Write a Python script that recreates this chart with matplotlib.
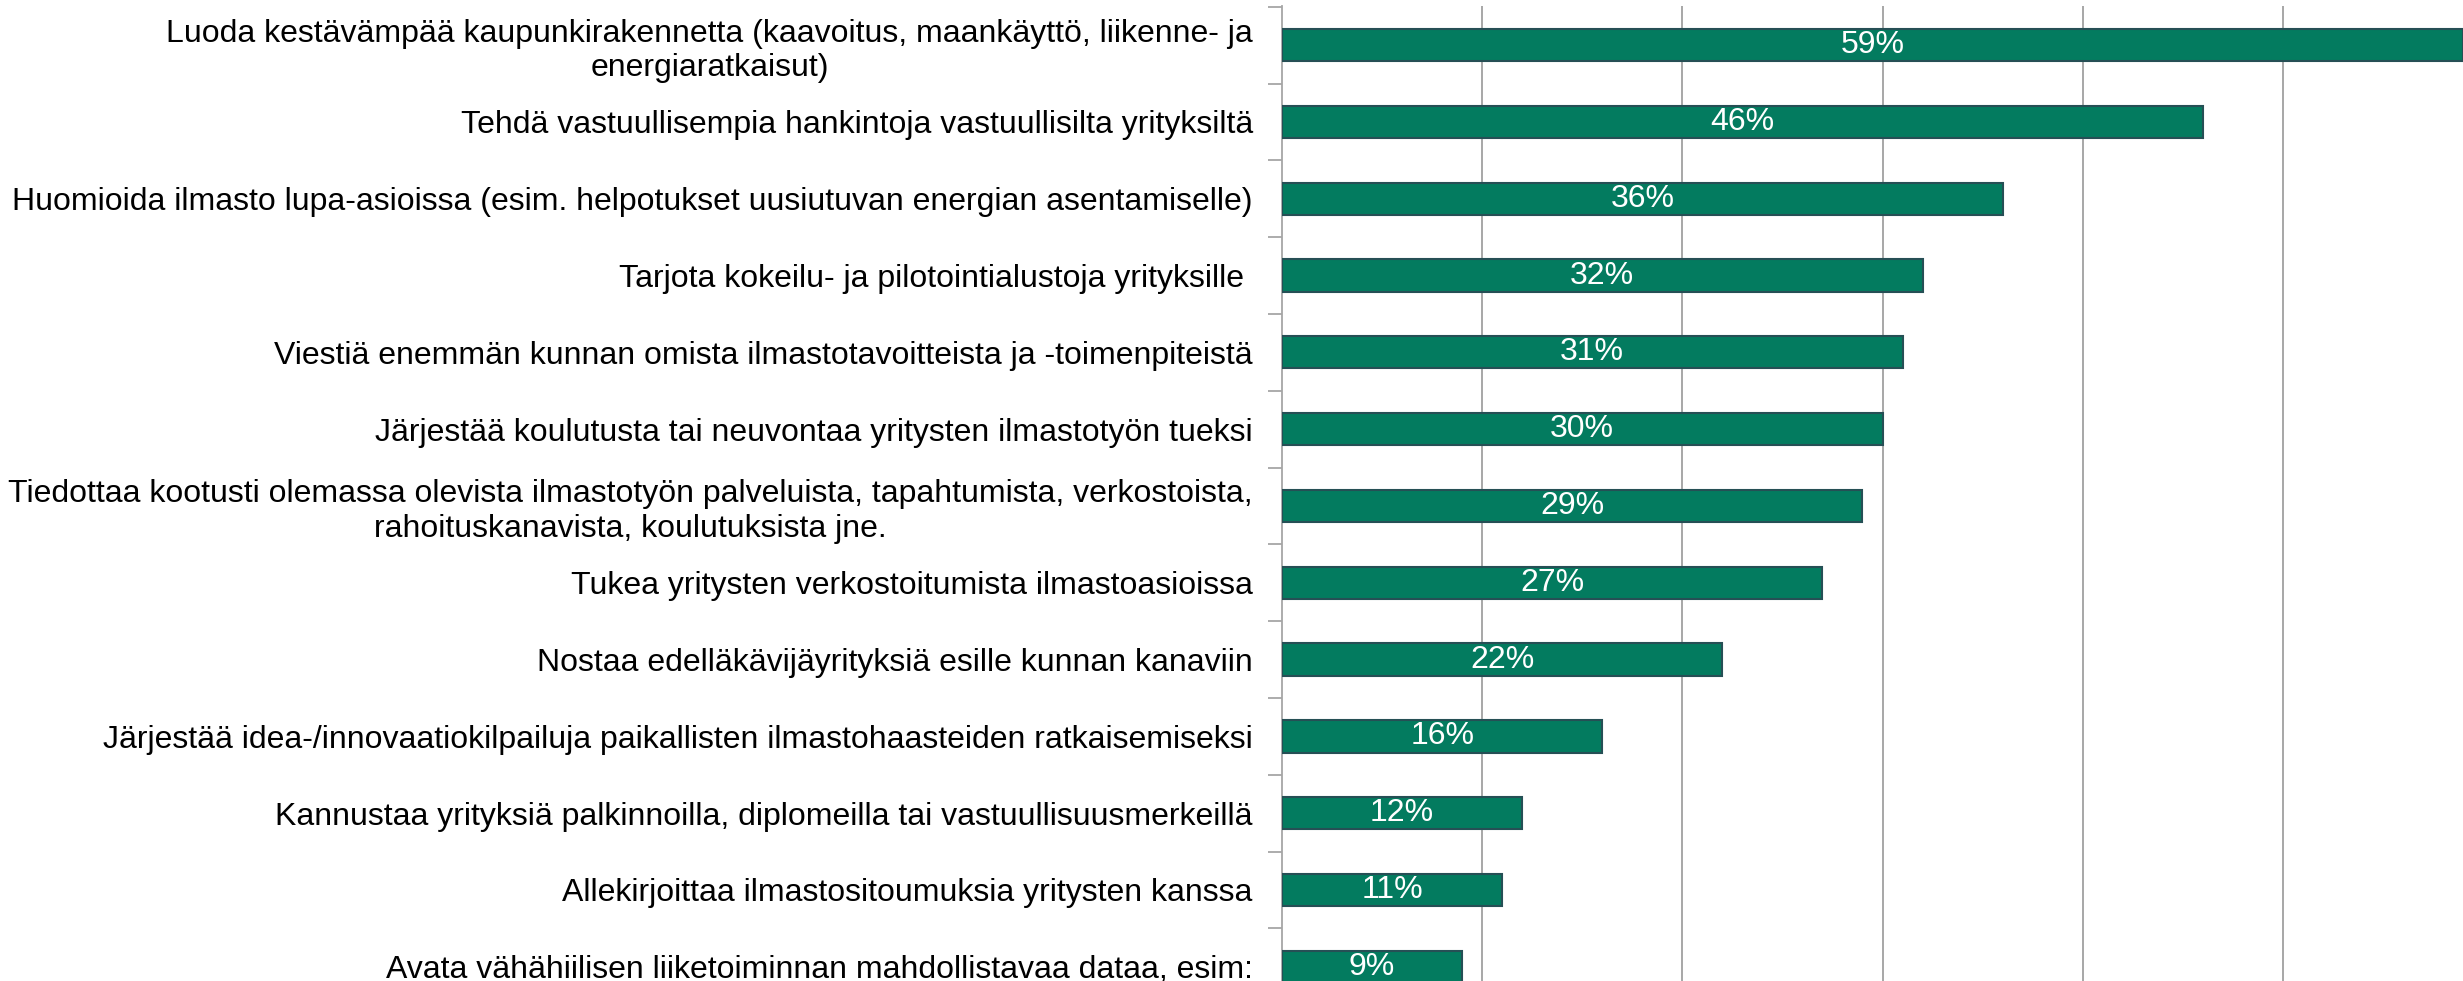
import numpy as np
import matplotlib as mpl

mpl.use('agg')

import matplotlib.pyplot as plt

## data (top to bottom)
labels = [
    'Luoda kestävämpää kaupunkirakennetta (kaavoitus, maankäyttö, liikenne- ja\nenergiaratkaisut)',
    'Tehdä vastuullisempia hankintoja vastuullisilta yrityksiltä',
    'Huomioida ilmasto lupa-asioissa (esim. helpotukset uusiutuvan energian asentamiselle)',
    'Tarjota kokeilu- ja pilotointialustoja yrityksille ',
    'Viestiä enemmän kunnan omista ilmastotavoitteista ja -toimenpiteistä',
    'Järjestää koulutusta tai neuvontaa yritysten ilmastotyön tueksi',
    'Tiedottaa kootusti olemassa olevista ilmastotyön palveluista, tapahtumista, verkostoista,\nrahoituskanavista, koulutuksista jne.',
    'Tukea yritysten verkostoitumista ilmastoasioissa',
    'Nostaa edelläkävijäyrityksiä esille kunnan kanaviin',
    'Järjestää idea-/innovaatiokilpailuja paikallisten ilmastohaasteiden ratkaisemiseksi',
    'Kannustaa yrityksiä palkinnoilla, diplomeilla tai vastuullisuusmerkeillä',
    'Allekirjoittaa ilmastositoumuksia yritysten kanssa',
    'Avata vähähiilisen liiketoiminnan mahdollistavaa dataa, esim:',
]
values = [59, 46, 36, 32, 31, 30, 29, 27, 22, 16, 12, 11, 9]

plt.rcParams['font.family'] = ['Liberation Sans', 'DejaVu Sans']

fig = plt.figure(figsize=(24.63, 9.81), dpi=100)
ax = fig.add_axes([0.5205, 0.0, 0.4795, 0.9939])

y = np.arange(len(values))
bars = ax.barh(y, values, height=0.42, color='#037B5F', edgecolor='#264F55',
               linewidth=1.5, zorder=3)

## percent labels in the middle of each bar
for b, v in zip(bars, values):
    ax.text(b.get_width() / 2, b.get_y() + b.get_height() / 2, '%d%%' % v,
            ha='center', va='center', color='white', fontsize=23, zorder=4)

## vertical gridlines every 10 %
ax.set_xticks([10, 20, 30, 40, 50])
ax.xaxis.grid(True, color='#A0A0A0', linewidth=1.3, zorder=0)
ax.tick_params(axis='x', length=0, labelbottom=False)

## category labels, ticks at the boundaries
ax.set_yticks(y)
ax.set_yticklabels(labels, fontsize=23, multialignment='center')
ax.tick_params(axis='y', length=0, pad=21)
ax.set_yticks(np.arange(-0.5, len(values), 1), minor=True)
ax.tick_params(axis='y', which='minor', length=10, width=1.3, color='#A6A6A6',
               direction='out')

# limits after the ticks, the last row is cut off like in the original
ax.set_xlim(0, 59)
ax.set_ylim(12.185, -0.51)

for s in ['top', 'right', 'bottom']:
    ax.spines[s].set_visible(False)
ax.spines['left'].set_color('#A6A6A6')
ax.spines['left'].set_linewidth(1.3)

fig.savefig('out.png', dpi=100)
